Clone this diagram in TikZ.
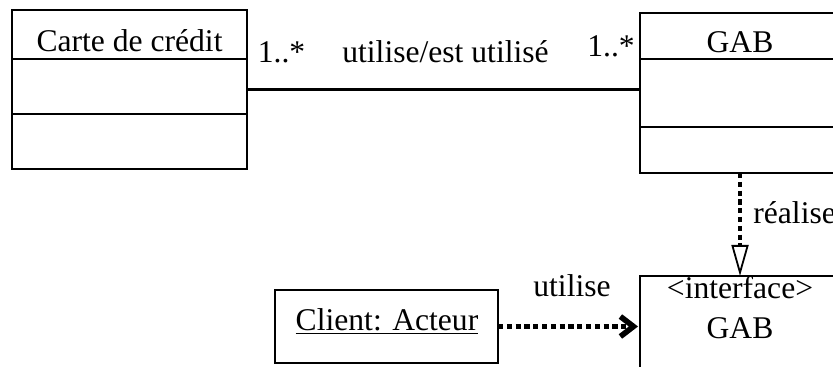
\documentclass[tikz,border=0pt]{standalone}
\usepackage{fontspec}
\setmainfont{Liberation Serif}
\usetikzlibrary{arrows.meta}
\begin{document}
\begin{tikzpicture}[x=0.5pt,y=-0.5pt,
  box/.style={draw,line width=1.1pt,rectangle,inner sep=0pt,outer sep=0pt,anchor=north west},
  lbl/.style={inner sep=0pt,anchor=base,font=\fontsize{15.8}{19}\selectfont},
  dotline/.style={line width=2.2pt,dash pattern=on 2.6pt off 1.8pt},
  assoc/.style={line width=1.1pt}]
\useasboundingbox (0,0) rectangle (833,367);
% class Carte de credit
\node[box,minimum width=117.5pt,minimum height=79.5pt] (carte) at (12,10) {};
\draw[line width=1.1pt] (12,59) -- (247,59);
\draw[line width=1.1pt] (12,114) -- (247,114);
\node[lbl] (tcarte) at (129.5,52) {Carte de crédit};
% class GAB
\node[box,minimum width=100pt,minimum height=80pt] (gab) at (640,13) {};
\draw[line width=1.1pt] (640,59) -- (840,59);
\draw[line width=1.1pt] (640,127) -- (840,127);
\node[lbl] (tgab) at (740,53) {GAB};
% interface GAB
\node[box,minimum width=100pt,minimum height=55pt] (iface) at (640,276) {};
\node[lbl] (tint) at (740,299) {<interface>};
\node[lbl] (tgab2) at (740,339) {GAB};
% Client actor
\node[box,minimum width=111.5pt,minimum height=36.5pt] (client) at (275,290) {};
\node[lbl] (tclient) at (387,330) {\underline{Client: Acteur}};
% association
\draw[assoc] (carte.east) -- (carte.east -| gab.west);
\node[lbl] (m1) at (281.5,63) {1..*};
\node[lbl] (assoclbl) at (445.5,63) {utilise/est utilisé};
\node[lbl] (m2) at (611,57) {1..*};
% realisation
\draw[dotline,-{Triangle[open,length=15.5pt,width=8.5pt,line width=0.9pt]}] (gab.south) -- (iface.north);
\node[lbl,anchor=base west] (real) at (753,224) {réalise};
% usage
\draw[dotline,-{Straight Barb[length=6.5pt,width=10pt,line width=2.8pt]}] (client.east) -- ([xshift=-1pt]client.east -| iface.west);
\node[lbl] (util) at (572,297) {utilise};
\end{tikzpicture}
\end{document}
